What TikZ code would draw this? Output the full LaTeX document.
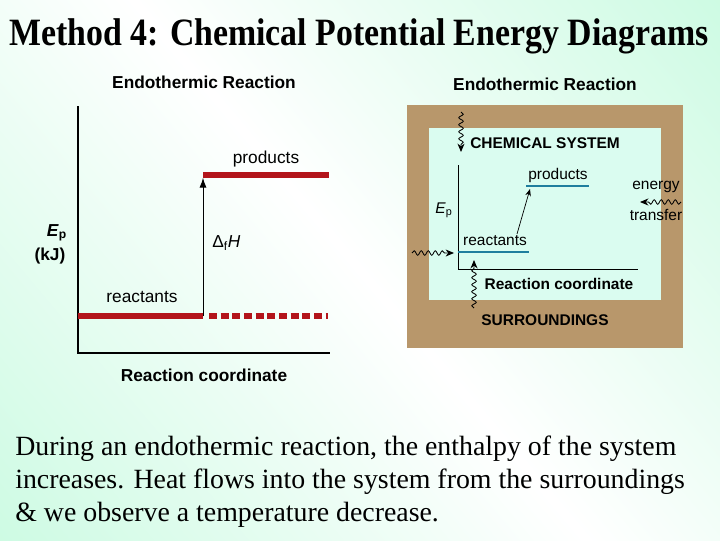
\documentclass[tikz,border=0pt]{standalone}
\usepackage{fontspec}
\setmainfont{Liberation Serif}
\setsansfont{Liberation Sans}
\usetikzlibrary{arrows.meta,positioning,decorations.pathmorphing,calc}
\definecolor{mint}{HTML}{C6FADF}
\definecolor{surrbrown}{HTML}{B8976B}
\definecolor{syscol}{HTML}{DAFCF0}
\definecolor{levelred}{HTML}{B3151B}
\definecolor{levelteal}{HTML}{1F7E9E}

\begin{document}
\begin{tikzpicture}[x=0.025cm,y=-0.025cm,
  biglab/.style={font=\sffamily\fontsize{12.3}{14}\selectfont, inner sep=0pt},
  bigbold/.style={font=\sffamily\bfseries\fontsize{12.3}{14}\selectfont, inner sep=0pt},
  smalllab/.style={font=\sffamily\fontsize{11}{13}\selectfont, inner sep=0pt},
  smallbold/.style={font=\sffamily\bfseries\fontsize{11}{13}\selectfont, inner sep=0pt},
  axisline/.style={draw=black, line width=0.8pt},
  redlevel/.style={draw=levelred, line width=3.6pt},
  teallevel/.style={draw=levelteal, line width=1.6pt},
  wavy/.style={decorate, decoration={snake, amplitude=1.6pt, segment length=5pt, post length=5pt},
    -{Stealth[length=6pt,width=5pt]}, line width=0.6pt}]

  % background and margins
  \useasboundingbox (0,0) rectangle (720,540);
  \shade[shading=axis, top color=mint, bottom color=mint, middle color=white, shading angle=-50]
    (-200,-200) rectangle (920,740);

  % title
  \node[font=\bfseries\fontsize{27.5}{32}\selectfont, anchor=base, inner sep=0pt] (title) at (359,45)
    {\scalebox{0.875}[1]{Method 4: Chemical Potential Energy Diagrams}};

  % left diagram
  \node[bigbold] (lefttitle) at (204,82) {Endothermic Reaction};
  \coordinate (lorigin) at (78,353);
  \coordinate (ltop) at (78,106);
  \coordinate (lright) at (330,353);
  \draw[axisline] (ltop) -- (lorigin) -- (lright);

  \coordinate (reacA) at (78,316);
  \coordinate (reacB) at (203,316);
  \coordinate (dashA) at (209,316);
  \coordinate (dashB) at (328,316);
  \coordinate (prodA) at (203,175);
  \coordinate (prodB) at (329,175);
  \draw[redlevel] (reacA) -- (reacB);
  \draw[redlevel, dash pattern=on 5.7pt off 2.6pt] (dashA) -- (dashB);
  \draw[redlevel] (prodA) -- (prodB);
  \draw[line width=0.6pt, -{Latex[length=7pt,width=5pt]}, shorten >=2pt] (reacB) -- (prodA);

  \node[biglab] (lprod) at (266,159) {products};
  \node[biglab] (lreac) at (142,297) {reactants};
  \node[biglab, anchor=west] (dH) at (212,243) {Δ\textsubscript{f}\textit{H}};
  \node[bigbold] (lEp) at (57,233) {\textit{E}\textsubscript{p}};
  \node[bigbold] (lunit) at (50,256) {(kJ)};
  \node[bigbold] (lxlab) at (204,375) {Reaction coordinate};

  % right diagram
  \node[bigbold] (righttitle) at (545,84) {Endothermic Reaction};
  \fill[surrbrown] (407,105) rectangle (683,348);
  \fill[syscol] (429,128) rectangle (661,300);

  \coordinate (rorigin) at (458,269);
  \coordinate (rtop) at (458,165);
  \coordinate (rright) at (638,269);
  \draw[axisline, line width=0.6pt] (rtop) -- (rorigin) -- (rright);

  \coordinate (treacA) at (458,252);
  \coordinate (treacB) at (529,252);
  \coordinate (tprodA) at (526,186);
  \coordinate (tprodB) at (589,186);
  \draw[teallevel] (treacA) -- (treacB);
  \draw[teallevel] (tprodA) -- (tprodB);
  \coordinate (stepfrom) at (517,234);
  \coordinate (stepto) at (530,189);
  \draw[line width=0.5pt, -{Stealth[length=5pt,width=4pt]}] (stepfrom) -- (stepto);

  \node[smallbold, anchor=west] (system) at (470,143) {CHEMICAL SYSTEM};
  \node[smalllab] (rEp) at (444,210) {\textit{E}\textsubscript{p}};
  \node[smalllab] (rreac) at (495,241) {reactants};
  \node[smalllab] (rprod) at (558,175) {products};
  \node[smallbold] (rxlab) at (559,284) {Reaction coordinate};
  \node[smallbold] (surr) at (545,320) {SURROUNDINGS};
  \node[smalllab] (energy) at (656,187) {energy};
  \node[smalllab] (transfer) at (656,215) {transfer};

  % heat flows in
  \coordinate (topin) at (461,112);
  \coordinate (topat) at (461,152);
  \coordinate (leftin) at (412,253);
  \coordinate (leftat) at (454,253);
  \coordinate (botin) at (474,308);
  \coordinate (botat) at (474,260);
  \coordinate (sidein) at (681,202);
  \coordinate (sideat) at (640,202);
  \draw[wavy] (topin) -- (topat);
  \draw[wavy] (leftin) -- (leftat);
  \draw[wavy] (botin) -- (botat);
  \draw[wavy] (sidein) -- (sideat);

  % text
  \node[anchor=base west, align=left, inner sep=0pt,
    font=\fontsize{19.8}{23.4}\selectfont] (caption) at (15,521)
    {During an endothermic reaction, the enthalpy of the system\\
     increases. Heat flows into the system from the surroundings\\
     \& we observe a temperature decrease.};
\end{tikzpicture}
\end{document}
